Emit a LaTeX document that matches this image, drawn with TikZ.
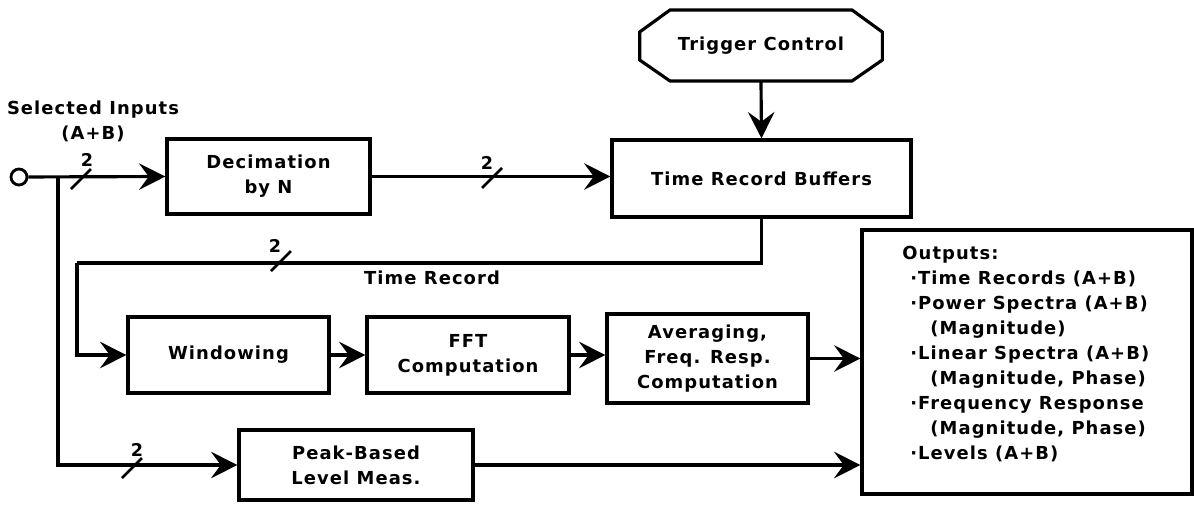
\documentclass[tikz,border=0pt]{standalone}
\usepackage{fontspec}
\newfontfamily\pixfont{DejaVu Sans Bold}[LetterSpace=6]
\usetikzlibrary{arrows.meta}
\begin{document}
\begin{tikzpicture}[x=0.02cm,y=-0.02cm,
  txt/.style={font=\pixfont\fontsize{10.2}{14.2}\selectfont, align=center, inner sep=0pt},
  blk/.style={txt, draw, line width=1.8pt},
  wire/.style={line width=1.8pt},
  arr/.style={wire, -{Stealth[length=15pt,width=15pt,inset=5.5pt]}},
  slashmark/.style={line width=1.5pt},
  lbl/.style={font=\pixfont\fontsize{10}{11}\selectfont, inner sep=0pt}]
\useasboundingbox (0,0) rectangle (1194,504);

% blocks
\node[circle, draw, line width=1.6pt, minimum size=0.32cm, inner sep=0pt] (inp) at (19,177) {};
\node[blk, minimum width=4.06cm, minimum height=1.5cm] (dec) at (268.5,176.5) {Decimation\\by N};
\node[blk, minimum width=5.98cm, minimum height=1.54cm] (trb) at (761.5,178.5) {Time Record Buffers};
\node[txt, minimum width=4.84cm, minimum height=1.42cm] (trig) at (761,45.5) {Trigger Control};
\draw[wire] (trig.west |- 0,32) -- (670,10) -- (852,10) -- (trig.east |- 0,32)
  -- (trig.east |- 0,60) -- (852,81) -- (670,81) -- (trig.west |- 0,60) -- cycle;
\node[blk, minimum width=4.02cm, minimum height=1.52cm] (win) at (228.5,355) {Windowing};
\node[blk, minimum width=4.04cm, minimum height=1.52cm] (fft) at (468,355) {FFT\\Computation};
\node[blk, minimum width=4.02cm, minimum height=1.78cm] (avg) at (707.5,358.5) {Averaging,\\Freq. Resp.\\Computation};
\node[blk, minimum width=4.68cm, minimum height=1.4cm] (peak) at (356,465) {Peak-Based\\Level Meas.};
\node[blk, minimum width=6.6cm, minimum height=5.28cm] (out) at (1027,362) {};
\node[txt, align=left, anchor=north west] (outtxt) at (902,246)
  {Outputs:\\
   \hspace*{4.5pt}·Time Records (A+B)\\
   \hspace*{4.5pt}·Power Spectra (A+B)\\
   \hspace*{16pt}(Magnitude)\\
   \hspace*{4.5pt}·Linear Spectra (A+B)\\
   \hspace*{16pt}(Magnitude, Phase)\\
   \hspace*{4.5pt}·Frequency Response\\
   \hspace*{16pt}(Magnitude, Phase)\\
   \hspace*{4.5pt}·Levels (A+B)};

% labels
\node[txt] (sel) at (93,121) {Selected Inputs\\(A+B)};
\node[txt] (trlbl) at (432,278) {Time Record};

% connectors
\coordinate (J) at (58,177);
\coordinate (T) at (77,263);
\draw[arr] (inp) -- (dec.west);
\draw[arr] (J) |- (peak.west);
\draw[arr] (dec.east) -- (dec.east -| trb.west);
\draw[arr] (trig.south) -- (trb.north);
\draw[wire] (trb.south) -- (trb.south |- T) -- (T);
\draw[arr] (T) |- (win.west);
\draw[arr] (win.east) -- (fft.west);
\draw[arr] (fft.east) -- (fft.east -| avg.west);
\draw[arr] (avg.east) -- (avg.east -| out.west);
\draw[arr] (peak.east) -- (peak.east -| out.west);

% bus slashes
\coordinate (s1) at (81,179);
\coordinate (s2) at (492,178);
\coordinate (s3) at (281,261);
\coordinate (s4) at (132,468);
\foreach \s in {s1,s2,s3,s4}
  \draw[slashmark] (\s) ++(-10,10) -- ++(20,-20);
\node[lbl] (l1) at (87,160) {2};
\node[lbl] (l2) at (487,163) {2};
\node[lbl] (l3) at (275,246) {2};
\node[lbl] (l4) at (137,450) {2};
\end{tikzpicture}
\end{document}
